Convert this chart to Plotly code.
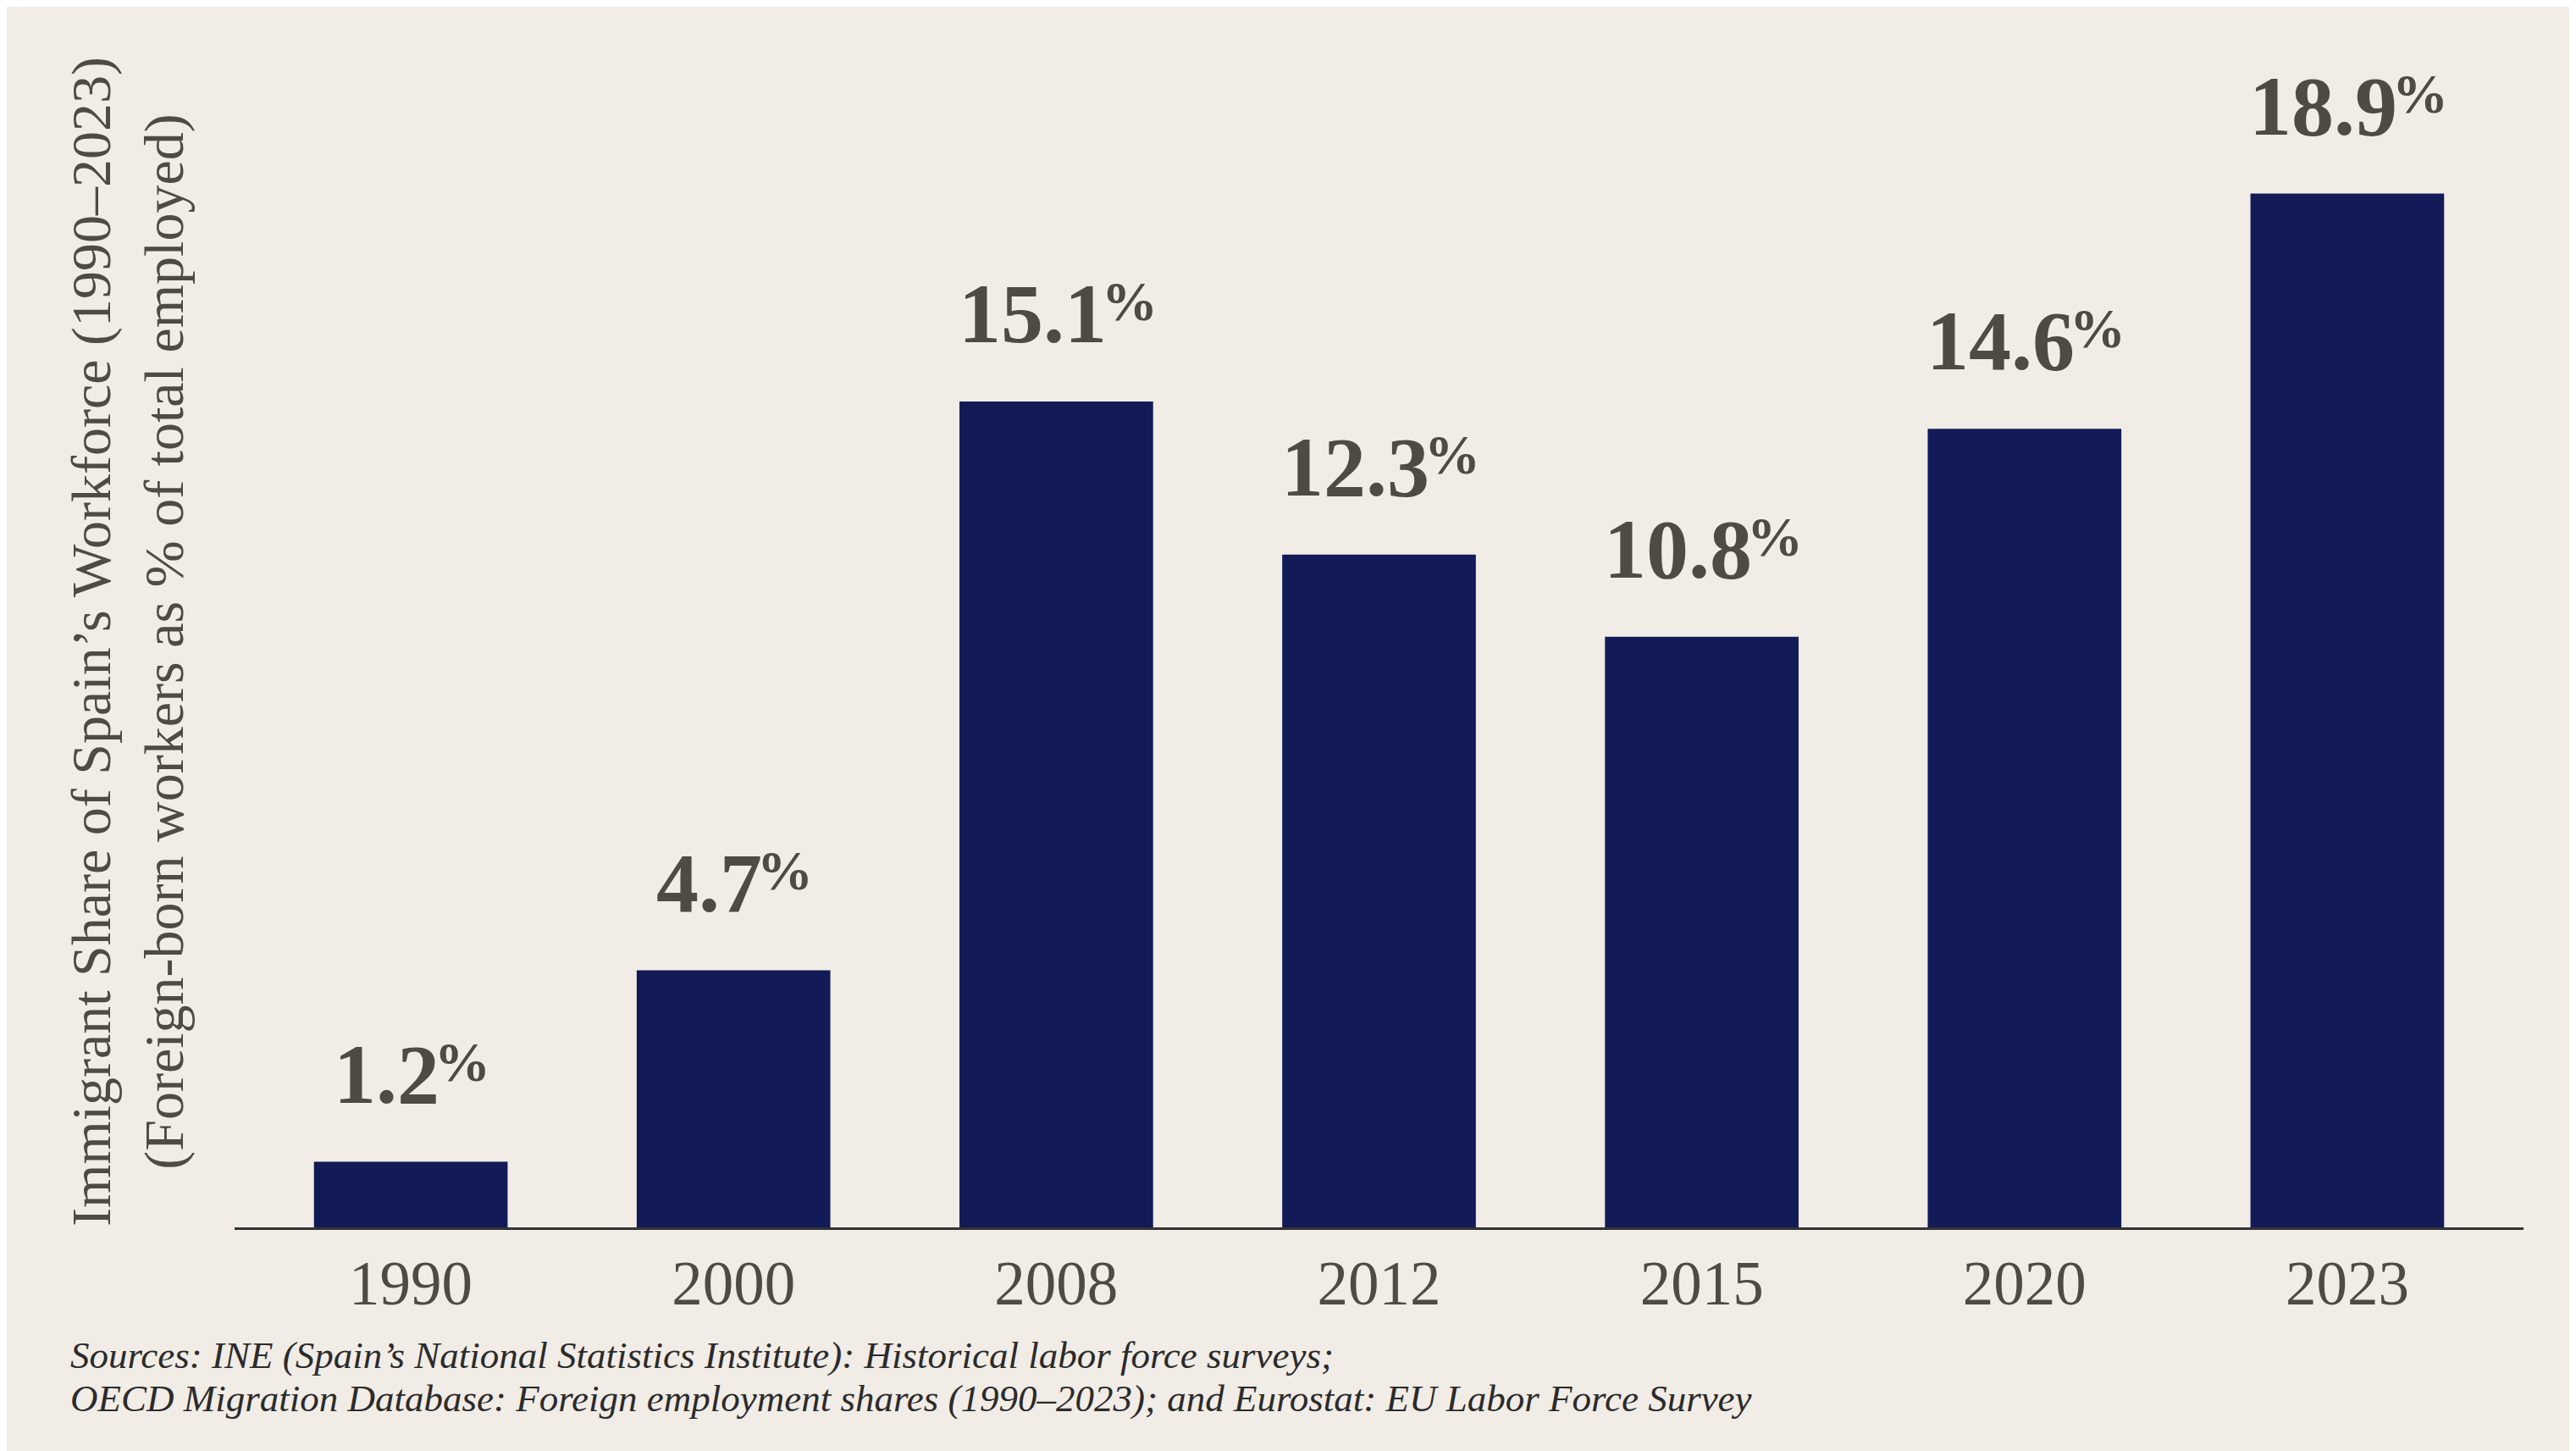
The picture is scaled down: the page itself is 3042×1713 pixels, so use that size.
import plotly.graph_objects as go

years = ["1990", "2000", "2008", "2012", "2015", "2020", "2023"]
shares = [1.2, 4.7, 15.1, 12.3, 10.8, 14.6, 18.9]
source_lines = [
    "Sources: INE (Spain’s National Statistics Institute): Historical labor force surveys;",
    "OECD Migration Database: Foreign employment shares (1990–2023); and Eurostat: EU Labor Force Survey",
]
title_lines = [
    "Immigrant Share of Spain’s Workforce (1990–2023)",
    "(Foreign-born workers as % of total employed)",
]

BG = "#f1ece6"
BAR = "#121b57"
TXT = "#4f4a44"
FONT = "Liberation Serif"

W, H = 3042, 1713
ml, mr, mt, mb = 269, 70, 85, H - 1441
PW, PH = W - ml - mr, H - mt - mb

NUM_SIZE, PCT_SIZE, GAP = 100, 66, -10
LABEL_SHIFT = 46

fig = go.Figure()
fig.add_trace(go.Bar(
    x=years, y=shares, marker=dict(color=BAR, line=dict(width=0)),
    width=0.6, hoverinfo="skip",
))

for i, v in enumerate(shares):
    s = f"{v:.1f}"
    # approximate advance widths of bold serif digits (0.5em) and period (0.25em)
    wn = NUM_SIZE * sum(0.25 if c == "." else 0.5 for c in s)
    wp = PCT_SIZE * 0.95
    total = wn + GAP + wp
    fig.add_annotation(
        x=i, y=v, xref="x", yref="y", text=s,
        showarrow=False, xanchor="right", yanchor="bottom",
        xshift=total / 2 - wp - GAP, yshift=LABEL_SHIFT,
        font=dict(family=FONT, size=NUM_SIZE, color=TXT, weight="bold"),
    )
    fig.add_annotation(
        x=i, y=v, xref="x", yref="y", text="%",
        showarrow=False, xanchor="left", yanchor="bottom",
        xshift=total / 2 - wp, yshift=LABEL_SHIFT + 34,
        font=dict(family=FONT, size=PCT_SIZE, color=TXT, weight="bold"),
    )

fig.add_annotation(
    xref="paper", yref="paper", x=(143 - ml) / PW, y=0.5 + 13 / PH,
    xanchor="center", yanchor="middle", textangle=-90,
    text="<br>".join(title_lines),
    showarrow=False, font=dict(family=FONT, size=66, color=TXT),
)

for line, ypix in zip(source_lines, [1592, 1643]):
    fig.add_annotation(
        xref="paper", yref="paper",
        x=(73 - ml) / PW, y=-(ypix - (H - mb)) / PH,
        xanchor="left", yanchor="middle", align="left",
        text=line,
        showarrow=False, font=dict(family=FONT, size=45, color="#2b2b2b", style="italic"),
    )

fig.update_layout(
    width=W, height=H, autosize=False,
    paper_bgcolor=BG, plot_bgcolor=BG,
    margin=dict(l=ml, r=mr, t=mt, b=mb, autoexpand=False),
    showlegend=False,
    xaxis=dict(
        type="category", range=[-0.546, 6.546],
        showline=True, linecolor="#333333", linewidth=3,
        ticks="", showgrid=False, zeroline=False,
        tickfont=dict(family=FONT, size=73, color=TXT),
        ticklabelstandoff=0,
    ),
    yaxis=dict(
        range=[0, 21], visible=False, showgrid=False, zeroline=False,
    ),
)

fig.write_html("out.html")
